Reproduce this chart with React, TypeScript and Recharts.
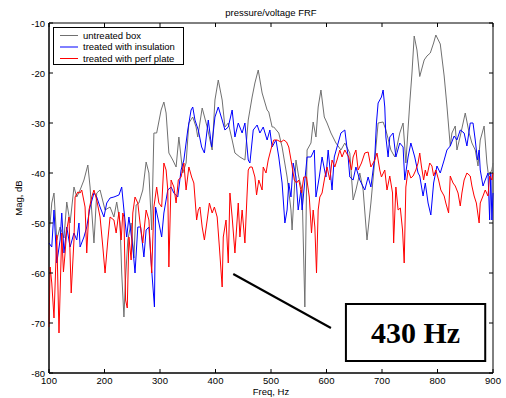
import React from "react";
import {
  LineChart,
  Line,
  XAxis,
  YAxis,
  Legend,
  ReferenceArea,
  ReferenceLine,
  Customized,
} from "recharts";

// [Hz, dB]
const untreatedBox: [number, number][] = [
  [100, -52], [102, -50], [105, -46], [109, -44], [114, -53.4], [120, -50.8], [127, -53],
  [132, -45.8], [138, -50], [145, -42.8], [150, -44.8], [156, -43.4], [163, -41.4], [170, -38.4],
  [174, -42.8], [181, -54], [186, -44], [192, -43.4], [201, -47.4], [210, -46.8], [217, -48.8],
  [222, -45.8], [228, -50], [231, -60], [235, -68.8], [238, -61], [242, -53.4], [248, -50],
  [253, -57], [257, -46.4], [262, -46], [269, -43.4], [275, -37.8], [280, -40], [285, -51.4],
  [289, -32], [294, -32], [302, -27.4], [307, -25.8], [311, -28], [316, -36], [323, -37.4],
  [329, -38.8], [334, -32.8], [341, -40], [347, -38], [352, -30], [359, -28.8], [365, -30.8],
  [368, -32.8], [376, -27], [385, -30.8], [394, -35.4], [399, -25.4], [405, -21.4], [412, -25.4],
  [417, -30.8], [423, -30], [430, -33.4], [435, -36], [444, -36.8], [453, -37.4], [459, -29.4],
  [466, -24.8], [471, -22], [477, -19.4], [484, -24], [493, -27.4], [496, -27.8], [502, -30.8],
  [505, -30.8], [514, -32], [520, -34.8], [529, -40.8], [536, -47.4], [538, -51.4], [545, -37.4],
  [550, -40.8], [556, -43.4], [561, -66.8], [565, -35.4], [572, -34], [576, -29.8], [581, -32.8],
  [585, -26.8], [590, -23.4], [596, -28.8], [601, -30], [608, -32], [617, -34], [626, -35.4],
  [633, -34], [642, -36], [648, -45.4], [653, -43.4], [660, -40], [666, -43.4], [673, -53.4],
  [680, -46], [687, -37.4], [693, -30], [702, -29.8], [707, -31.4], [716, -35.4], [723, -36.8],
  [732, -32], [738, -30], [743, -38], [750, -26], [754, -20], [758, -12.6], [763, -15.4],
  [768, -20.7], [776, -17.4], [781, -16.6], [787, -16], [793, -14], [797, -12.4], [805, -14.2],
  [812, -20.6], [817, -26.6], [823, -34.6], [826, -32], [832, -30.6], [835, -35.4], [841, -32.6],
  [850, -28], [857, -32], [862, -34], [868, -35.4], [873, -38.6], [877, -33.4], [884, -30.6],
  [889, -38], [892, -40.6], [898, -39.4], [900, -38],
];

const withInsulation: [number, number][] = [
  [100, -54], [105, -54.8], [109, -47.4], [114, -58], [120, -53.4], [123, -48], [127, -56],
  [132, -50.8], [138, -54.8], [145, -52], [150, -53.4], [154, -50], [156, -54.8], [163, -52.8],
  [168, -50.8], [174, -46.8], [181, -44], [186, -44.8], [192, -46.8], [199, -48.8], [204, -46],
  [210, -45], [217, -44.8], [226, -44.4], [231, -42.8], [235, -47.4], [240, -52.8], [244, -48.8],
  [251, -54.8], [255, -60], [260, -50.8], [265, -50.8], [271, -56.8], [275, -51.4], [280, -50.8],
  [285, -59.4], [290, -66.8], [292, -46.8], [298, -50], [303, -52.8], [307, -48], [314, -43.4],
  [320, -42.8], [325, -44], [332, -44.8], [338, -39.4], [343, -37.4], [350, -31.4], [356, -27.4],
  [359, -26.8], [363, -29.4], [369, -31.4], [375, -34.8], [380, -36], [387, -29.4], [393, -34.8],
  [399, -28.8], [405, -26.8], [412, -29.4], [417, -31.4], [423, -30.8], [430, -27.4], [435, -32.8],
  [441, -30], [448, -32], [453, -30], [459, -37.4], [462, -38], [468, -31.4], [475, -30.4],
  [480, -32], [486, -30.8], [493, -33.4], [498, -31.4], [502, -34.8], [509, -33.4], [514, -36.8],
  [520, -42], [525, -50], [529, -47.4], [532, -42], [536, -44.8], [540, -38], [545, -40.8],
  [549, -47.4], [554, -43.4], [556, -47.4], [565, -36.8], [572, -36.8], [578, -35.4], [581, -44.8],
  [587, -40.8], [592, -36.8], [599, -40.8], [603, -35.4], [610, -43.4], [614, -36.8], [619, -34.8],
  [626, -32], [633, -31.4], [639, -36.8], [642, -40.8], [648, -41.4], [653, -38.8], [660, -41.4],
  [669, -43.4], [675, -40.8], [680, -42.8], [687, -36.8], [690, -30], [693, -26], [699, -24.8],
  [702, -23.4], [705, -26.8], [707, -32.8], [711, -36.8], [714, -32.8], [720, -32], [725, -36.8],
  [732, -34], [738, -34.8], [741, -41.4], [747, -36.8], [752, -34], [759, -36.8], [765, -40],
  [768, -40.6], [774, -44.6], [778, -42], [783, -46], [788, -48.4], [793, -42], [799, -38.6],
  [805, -40], [812, -37.4], [817, -35.4], [823, -34.6], [830, -32.6], [835, -33.4], [841, -31.4],
  [848, -32], [853, -34.6], [859, -30], [864, -30], [868, -33.4], [872, -37.4], [875, -35.4],
  [877, -39.4], [882, -42.6], [886, -41.4], [891, -40], [894, -49.4], [896, -40], [898, -49.4],
  [900, -44],
];

const withPerfPlate: [number, number][] = [
  [100, -70.8], [102, -58.8], [105, -62], [109, -69], [114, -52.4], [118, -72], [123, -52],
  [126, -59.8], [129, -56], [132, -51.4], [136, -48.8], [140, -64], [145, -53.4], [147, -44.8],
  [152, -43.8], [156, -44], [159, -43.4], [165, -46.8], [168, -56], [172, -47.4], [177, -44.8],
  [181, -43.4], [186, -45.4], [192, -48.8], [197, -54.8], [201, -60], [206, -53.4], [210, -48.8],
  [217, -49.4], [221, -52], [226, -47.8], [230, -53.4], [233, -48], [235, -48.8], [238, -65.4],
  [241, -67], [244, -52.8], [248, -57.4], [251, -48], [255, -44.8], [260, -46], [264, -50],
  [269, -54], [275, -47.4], [280, -49.4], [285, -60], [289, -46.8], [294, -42.8], [298, -46],
  [303, -46.8], [307, -38], [311, -39.4], [314, -43.4], [316, -58.8], [320, -41.4], [325, -42.8],
  [329, -46], [333, -41.4], [338, -40.8], [343, -38], [347, -43.4], [352, -38.8], [357, -40.8],
  [361, -42], [366, -49.4], [369, -47.4], [372, -46.8], [376, -50.8], [380, -53.4], [385, -49.4],
  [389, -46], [394, -48], [398, -46.8], [403, -48.8], [407, -54.8], [412, -62.8], [414, -52.8],
  [419, -49.4], [423, -58], [426, -44], [430, -48.8], [435, -56], [441, -46], [444, -52.8],
  [448, -47.4], [453, -54], [457, -44], [459, -39.4], [462, -38.8], [466, -38.8], [471, -40.8],
  [474, -44.4], [478, -41.4], [484, -43.4], [486, -38.8], [491, -40], [495, -37.4], [501, -34.8],
  [505, -33.4], [511, -33.4], [518, -33.8], [523, -33.4], [528, -33.8], [532, -34.8], [537, -38],
  [542, -41.4], [546, -42], [550, -41.4], [555, -44], [559, -40.8], [564, -40.8], [569, -44.8],
  [573, -52], [576, -47.4], [579, -50.8], [582, -60], [585, -47.4], [588, -44.8], [592, -44],
  [597, -40.8], [601, -38.8], [606, -41.4], [610, -37.4], [615, -38.8], [619, -37.4], [624, -35.4],
  [628, -36.8], [633, -35.4], [640, -36.8], [645, -39.4], [648, -36.8], [653, -35.4], [657, -39.4],
  [663, -38], [669, -36], [675, -35.8], [680, -38.8], [687, -37.4], [691, -36], [696, -39.4],
  [699, -40.8], [705, -39.4], [709, -43.4], [714, -40.6], [719, -44], [721, -54], [725, -42.8],
  [729, -47.4], [733, -47], [737, -51.4], [740, -58], [743, -42.8], [747, -39.4], [752, -41],
  [756, -40.6], [761, -39.4], [765, -38], [768, -36], [771, -38.6], [775, -41.4], [778, -39.4],
  [781, -40.6], [786, -38], [790, -38.6], [793, -40.6], [797, -39.4], [802, -41.4], [806, -43.4],
  [812, -44.6], [815, -46], [820, -48], [823, -40.6], [828, -42], [832, -42.6], [837, -44],
  [841, -46.6], [844, -44], [848, -41.4], [853, -40], [859, -40.6], [862, -42.6], [866, -44.6],
  [870, -46], [875, -50], [877, -46], [882, -44.6], [886, -43.4], [891, -44.6], [894, -40.6],
  [898, -41.4], [900, -40],
];

const seriesNames = ["untreated box", "treated with insulation", "treated with perf plate"];
const seriesColors = ["#707070", "#0000ff", "#ff0000"];
const xTicks = [100, 200, 300, 400, 500, 600, 700, 800, 900];
const yTicks = [-80, -70, -60, -50, -40, -30, -20, -10];

const toRows = (pts: [number, number][]) => pts.map(([hz, db]) => ({ hz, db }));

const FONT = "'Liberation Sans', Arial, sans-serif";
const W = 506;
const H = 398;
const M = { top: 23, right: 13, bottom: 25, left: 49 };
const plotTop = M.top;
const plotBottom = H - M.bottom;
const plotLeft = M.left;
const plotRight = W - M.right;

function XTick({ x, payload }: any) {
  return (
    <g>
      <line x1={x} x2={x} y1={plotBottom} y2={plotBottom - 4} stroke="#000" />
      <line x1={x} x2={x} y1={plotTop} y2={plotTop + 4} stroke="#000" />
      <text x={x} y={plotBottom + 11} textAnchor="middle" fontSize={9.5} fontFamily={FONT} fill="#000">
        {payload.value}
      </text>
    </g>
  );
}

function YTick({ y, payload }: any) {
  return (
    <g>
      <line x1={plotLeft} x2={plotLeft + 4} y1={y} y2={y} stroke="#000" />
      <line x1={plotRight} x2={plotRight - 4} y1={y} y2={y} stroke="#000" />
      <text x={plotLeft - 4} y={y + 3.5} textAnchor="end" fontSize={9.5} fontFamily={FONT} fill="#000">
        {payload.value}
      </text>
    </g>
  );
}

function LegendBox() {
  return (
    <svg width={131} height={38} style={{ display: "block" }}>
      <rect x={0.5} y={0.5} width={130} height={37} fill="#fff" stroke="#000" strokeWidth={1} />
      {seriesNames.map((name, i) => {
        const cy = 8.5 + i * 11.5;
        return (
          <g key={name}>
            <line x1={7} x2={25} y1={cy} y2={cy} stroke={seriesColors[i]} strokeWidth={1} />
            <text x={30} y={cy + 3.4} fontSize={9.5} fontFamily={FONT} fill="#000">
              {name}
            </text>
          </g>
        );
      })}
    </svg>
  );
}

function Title() {
  return (
    <text x={(plotLeft + plotRight) / 2} y={16} textAnchor="middle" fontSize={9.5} fontFamily={FONT} fill="#000">
      pressure/voltage FRF
    </text>
  );
}

export default function App() {
  return (
    <div style={{ position: "absolute", left: 0, top: 0, background: "#fff" }}>
      <LineChart width={W} height={H} margin={{ top: M.top, right: M.right, bottom: 5, left: 9 }}>
        <XAxis
          dataKey="hz"
          type="number"
          domain={[100, 900]}
          ticks={xTicks}
          interval={0}
          height={20}
          tickLine={false}
          tick={<XTick />}
          axisLine={{ stroke: "#000" }}
          label={() => (
            <text x={(plotLeft + plotRight) / 2} y={H - 3} textAnchor="middle" fontSize={9.5} fontFamily={FONT} fill="#000">
              Freq, Hz
            </text>
          )}
        />
        <YAxis
          type="number"
          domain={[-80, -10]}
          ticks={yTicks}
          interval={0}
          width={40}
          tickLine={false}
          tick={<YTick />}
          axisLine={{ stroke: "#000" }}
          label={() => (
            <text
              x={22}
              y={(plotTop + plotBottom) / 2}
              transform={`rotate(-90 22 ${(plotTop + plotBottom) / 2})`}
              textAnchor="middle"
              fontSize={9.5}
              fontFamily={FONT}
              fill="#000"
            >
              Mag, dB
            </text>
          )}
        />
        <ReferenceArea x1={100} x2={900} y1={-80} y2={-10} fill="none" stroke="#000" strokeWidth={1} ifOverflow="visible" />
        <Line
          data={toRows(untreatedBox)}
          dataKey="db"
          name={seriesNames[0]}
          stroke={seriesColors[0]}
          strokeWidth={1}
          dot={false}
          isAnimationActive={false}
        />
        <Line
          data={toRows(withInsulation)}
          dataKey="db"
          name={seriesNames[1]}
          stroke={seriesColors[1]}
          strokeWidth={1}
          dot={false}
          isAnimationActive={false}
        />
        <Line
          data={toRows(withPerfPlate)}
          dataKey="db"
          name={seriesNames[2]}
          stroke={seriesColors[2]}
          strokeWidth={1}
          dot={false}
          isAnimationActive={false}
        />
        <ReferenceLine
          segment={[{ x: 432, y: -60.2 }, { x: 608, y: -71 }]}
          stroke="#000"
          strokeWidth={2}
          ifOverflow="visible"
        />
        <ReferenceArea
          x1={635}
          x2={886}
          y1={-77.6}
          y2={-66.2}
          fill="#fff"
          fillOpacity={1}
          stroke="#000"
          strokeWidth={2}
          ifOverflow="visible"
          label={{
            value: "430 Hz",
            position: "center",
            fontSize: 30,
            fontWeight: "bold",
            fontFamily: "'Liberation Serif', 'Times New Roman', serif",
            fill: "#000",
          }}
        />
        <Legend
          layout="vertical"
          align="center"
          verticalAlign="middle"
          content={<LegendBox />}
          wrapperStyle={{ position: "absolute", left: 53, top: 27, width: 131, height: 38 }}
        />
        <Customized component={<Title />} />
      </LineChart>
    </div>
  );
}
